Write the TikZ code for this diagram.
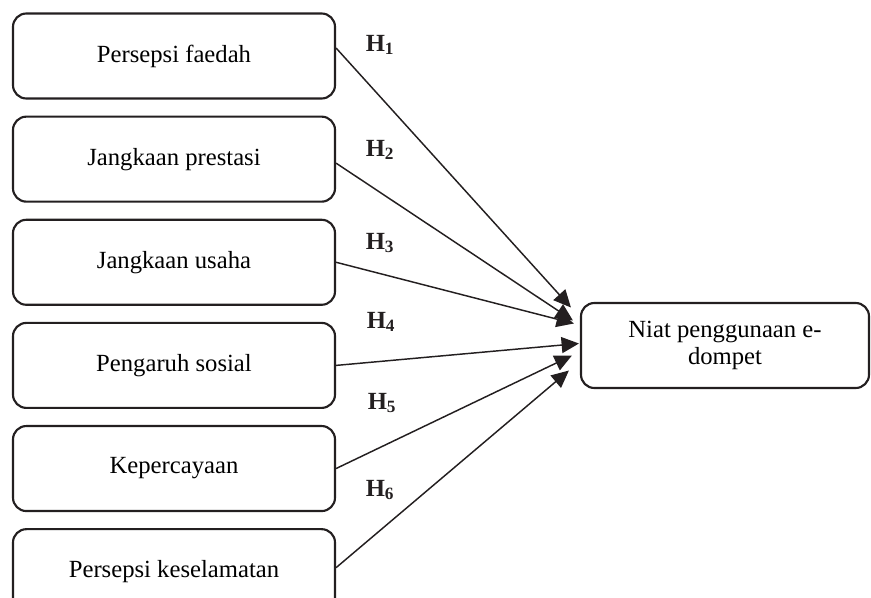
\documentclass[tikz,border=0pt]{standalone}
\usepackage{fontspec}
\setmainfont{Liberation Serif}
\usetikzlibrary{arrows.meta, positioning, calc}
\definecolor{cdark}{HTML}{231F20}
\tikzset{
  every picture/.style={font=\fontsize{18.5}{20}\selectfont, line width=1pt},
  box/.style={draw=cdark, rounded corners=10pt, align=center, line width=1.6pt, minimum width=241.5pt, minimum height=63.75pt, inner sep=4pt},
  arrow/.style={-{Triangle[length=13pt, width=12pt]}, draw=cdark, line width=1.1pt},
  hlabel/.style={font=\fontsize{18.5}{20}\selectfont\bfseries, text=cdark},
}

\begin{document}
\begin{tikzpicture}[x=0.75pt, y=-0.75pt, node distance=12pt]
  \useasboundingbox (0,0) rectangle (871,597);
  \node[box] (faedah) at (174,56) {Persepsi faedah};
  \node[box, below=of faedah] (prestasi) {Jangkaan prestasi};
  \node[box, below=of prestasi] (usaha) {Jangkaan usaha};
  \node[box, below=of usaha] (sosial) {Pengaruh sosial};
  \node[box, below=of sosial] (percaya) {Kepercayaan};
  \node[box, below=of percaya] (selamat) {Persepsi keselamatan};
  \node[box, minimum width=216pt] (niat) at (725,345.5) {Niat penggunaan e-\\dompet};
  % where the heads stop, just left of the target box
  \coordinate (e1) at ($(niat.west)+(-9,-38)$);
  \coordinate (e2) at ($(niat.west)+(-7,-25)$);
  \coordinate (e3) at ($(niat.west)+(-6,-22)$);
  \coordinate (e4) at ($(niat.west)+(-1,-2)$);
  \coordinate (e5) at ($(niat.west)+(-8,10)$);
  \coordinate (e6) at ($(niat.west)+(-11,25)$);
  \draw[arrow] ([yshift=6pt]faedah.east) -- (e1);
  \draw[arrow] ([yshift=-3pt]prestasi.east) -- (e2);
  \draw[arrow] (usaha.east) -- (e3);
  \draw[arrow] (sosial.east) -- (e4);
  \draw[arrow] (percaya.east) -- (e5);
  \draw[arrow] ([yshift=3pt]selamat.east) -- (e6);
  \node[hlabel] (h1) at (380,45) {H\textsubscript{1}};
  \node[hlabel] (h2) at (380,150) {H\textsubscript{2}};
  \node[hlabel] (h3) at (380,243) {H\textsubscript{3}};
  \node[hlabel] (h4) at (381,322) {H\textsubscript{4}};
  \node[hlabel] (h5) at (382,403) {H\textsubscript{5}};
  \node[hlabel] (h6) at (380,490) {H\textsubscript{6}};
\end{tikzpicture}
\end{document}
